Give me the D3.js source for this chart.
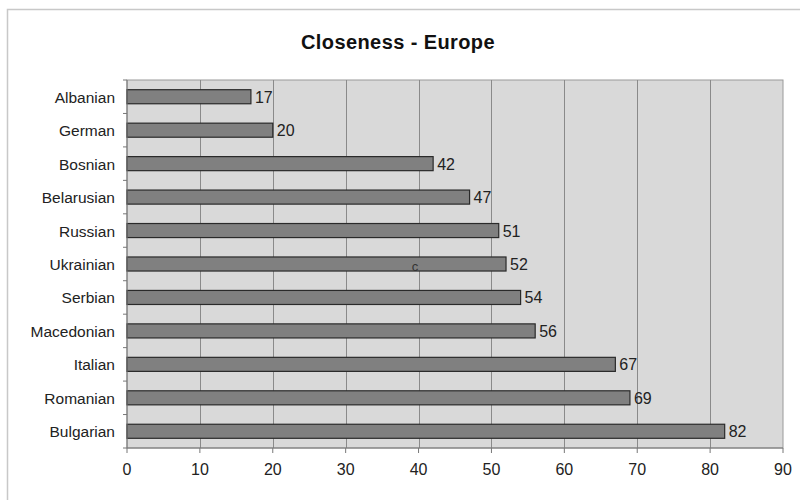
<!DOCTYPE html>
<html><head><meta charset="utf-8">
<script src="https://cdn.jsdelivr.net/npm/d3@7"></script>
<style>body{margin:0;background:#fff;}svg{display:block;font-family:"Liberation Sans",Arial,sans-serif;}</style>
</head><body>
<svg id="c" width="800" height="500"></svg>
<script>
const categories = ["Albanian","German","Bosnian","Belarusian","Russian","Ukrainian","Serbian","Macedonian","Italian","Romanian","Bulgarian"];
const values = [17,20,42,47,51,52,54,56,67,69,82];
const xTicks = [0,10,20,30,40,50,60,70,80,90];
const title = "Closeness - Europe";

const svg = d3.select("#c");
const m = {left:127, top:80, right:783, bottom:448};

// outer chart border
svg.append("rect").attr("x",7.5).attr("y",9.5).attr("width",820).attr("height",520)
  .attr("fill","#fff").attr("stroke","#c8c8c8").attr("stroke-width",1.5);

svg.append("text").attr("x",398).attr("y",49).attr("text-anchor","middle")
  .attr("font-size",20).attr("font-weight","bold").attr("fill","#111")
  .attr("letter-spacing",0.4).text(title);

const x = d3.scaleLinear().domain([0,90]).range([m.left,m.right]);
const y = d3.scaleBand().domain(categories).range([m.top,m.bottom]).paddingInner(0.58).paddingOuter(0.29);

// plot area
svg.append("rect").attr("x",m.left).attr("y",m.top).attr("width",m.right-m.left).attr("height",m.bottom-m.top)
  .attr("fill","#d9d9d9").attr("stroke","#9a9a9a").attr("stroke-width",1);

// gridlines
svg.append("g").selectAll("line").data(xTicks.slice(1,-1)).join("line")
  .attr("x1",d=>Math.round(x(d))+0.5).attr("x2",d=>Math.round(x(d))+0.5)
  .attr("y1",m.top).attr("y2",m.bottom).attr("stroke","#8a8a8a").attr("stroke-width",1);

// bars
svg.append("g").selectAll("rect").data(categories).join("rect")
  .attr("x",x(0)).attr("y",d=>y(d)).attr("height",y.bandwidth())
  .attr("width",(d,i)=>x(values[i])-x(0))
  .attr("fill","#808080").attr("stroke","#2a2a2a").attr("stroke-width",1.2);

// value labels
svg.append("g").selectAll("text").data(categories).join("text")
  .attr("x",(d,i)=>x(values[i])+4).attr("y",d=>y(d)+y.bandwidth()/2+6)
  .attr("font-size",16).attr("fill","#222").text((d,i)=>values[i]);

// y axis
const ya = svg.append("g").attr("transform",`translate(${m.left},0)`);
ya.append("line").attr("x1",0).attr("x2",0).attr("y1",m.top).attr("y2",m.bottom).attr("stroke","#777");
const bounds = d3.range(categories.length+1).map(i=>m.top+i*(m.bottom-m.top)/categories.length);
ya.selectAll("line.t").data(bounds).join("line").attr("class","t")
  .attr("x1",-4).attr("x2",0).attr("y1",d=>d).attr("y2",d=>d).attr("stroke","#777");
ya.selectAll("text").data(categories).join("text")
  .attr("x",-12).attr("y",d=>y(d)+y.bandwidth()/2+6).attr("text-anchor","end")
  .attr("font-size",15.5).attr("fill","#222").text(d=>d);

// x axis
const xa = svg.append("g").attr("transform",`translate(0,${m.bottom})`);
xa.append("line").attr("x1",m.left).attr("x2",m.right).attr("stroke","#777");
xa.selectAll("line.t").data(xTicks).join("line").attr("class","t")
  .attr("x1",d=>x(d)).attr("x2",d=>x(d)).attr("y1",0).attr("y2",5).attr("stroke","#777");
xa.selectAll("text").data(xTicks).join("text")
  .attr("x",d=>x(d)).attr("y",27).attr("text-anchor","middle")
  .attr("font-size",16).attr("fill","#222").text(d=>d);

// stray mark seen in the source image
svg.append("text").attr("x",415).attr("y",271).attr("text-anchor","middle")
  .attr("font-size",13).attr("fill","#333").text("c");
</script>
</body></html>
